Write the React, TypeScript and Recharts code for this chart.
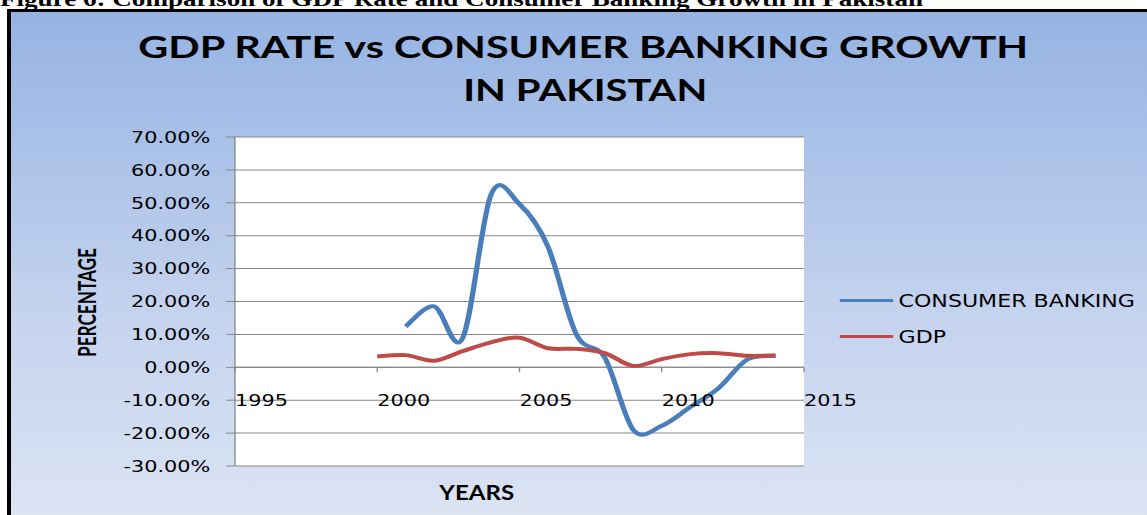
import { LineChart, Line, XAxis, YAxis, CartesianGrid, ReferenceLine, Legend } from 'recharts'

const years = [2000, 2001, 2002, 2003, 2004, 2005, 2006, 2007, 2008, 2009, 2010, 2011, 2012, 2013, 2014]
const consumerBanking = [null, 12.4, 18.5, 8.8, 52.5, 49.6, 36.7, 10.0, 2.9, -19.0, -17.8, -12.1, -6.3, 2.3, 3.5]
const gdpRate = [3.3, 3.7, 2.0, 4.9, 7.6, 9.0, 5.8, 5.6, 4.3, 0.4, 2.5, 4.0, 4.3, 3.5, 3.6]
const xTicks = [1995, 2000, 2005, 2010, 2015]
const yTicks = [-30, -20, -10, 0, 10, 20, 30, 40, 50, 60, 70]
const seriesNames = ['CONSUMER BANKING', 'GDP']

const chartData = years.map((year, i) => ({
  year,
  consumer: consumerBanking[i],
  gdp: gdpRate[i],
}))

// the source picture is stretched sideways, so the chart is drawn narrow and scaled
const S = 1.3
const W = 1147 / S
const H = 515
const PLOT_LEFT = 235 / S
const PLOT_RIGHT = 804 / S
const PLOT_TOP = 137
const PLOT_BOTTOM = 466
const Y_MIN = -30
const Y_MAX = 70
const ZERO_Y = PLOT_TOP + ((PLOT_BOTTOM - PLOT_TOP) * Y_MAX) / (Y_MAX - Y_MIN)

const GRID = '#878787'
const BLUE = '#4a7ebb'
const RED = '#be4b48'
const TICK_FONT = '"DejaVu Sans", Verdana, sans-serif'
const TITLE_FONT = 'Lato, "Open Sans", sans-serif'

// Excel-like smoothed line (Catmull-Rom through every point)
const excelCurve = (context: any) => {
  let pts: number[][] = []
  return {
    areaStart() {},
    areaEnd() {},
    lineStart() {
      pts = []
    },
    point(x: number, y: number) {
      pts.push([+x, +y])
    },
    lineEnd() {
      if (!pts.length) return
      context.moveTo(pts[0][0], pts[0][1])
      for (let i = 0; i < pts.length - 1; i++) {
        const p0 = pts[Math.max(i - 1, 0)]
        const p1 = pts[i]
        const p2 = pts[i + 1]
        const p3 = pts[Math.min(i + 2, pts.length - 1)]
        context.bezierCurveTo(
          p1[0] + (p2[0] - p0[0]) / 6,
          p1[1] + (p2[1] - p0[1]) / 6,
          p2[0] - (p3[0] - p1[0]) / 6,
          p2[1] - (p3[1] - p1[1]) / 6,
          p2[0],
          p2[1]
        )
      }
    },
  }
}

function YTick({ x, y, payload }: any) {
  return (
    <text x={x} y={y} dy="0.36em" textAnchor="end" fontFamily={TICK_FONT} fontSize={16} fill="#000">
      {`${Number(payload.value).toFixed(2)}%`}
    </text>
  )
}

function XTick({ x, payload }: any) {
  return (
    <g>
      <line x1={x} x2={x} y1={ZERO_Y} y2={ZERO_Y + 5} stroke={GRID} />
      <text x={x} y={ZERO_Y + 39} textAnchor="start" fontFamily={TICK_FONT} fontSize={16} fill="#000">
        {payload.value}
      </text>
    </g>
  )
}

function LegendBox({ payload }: any) {
  return (
    <div style={{ fontFamily: TICK_FONT, fontSize: 17, color: '#000', whiteSpace: 'nowrap' }}>
      {(payload || []).map((item: any) => (
        <div key={item.value} style={{ display: 'flex', alignItems: 'center', height: 36 }}>
          <span style={{ display: 'inline-block', width: 41, height: 3, background: item.color, marginRight: 4 }} />
          <span>{item.value}</span>
        </div>
      ))}
    </div>
  )
}

export default function App() {
  return (
    <div style={{ position: 'absolute', left: 0, top: 0, width: 1147, height: H, overflow: 'hidden', background: '#fff' }}>
      <svg width={1147} height={20} style={{ position: 'absolute', left: 0, top: 0 }}>
        <text
          x={0}
          y={5.5}
          fontFamily='"Liberation Serif", "Times New Roman", serif'
          fontWeight={700}
          fontSize={21}
          textLength={923}
          lengthAdjust="spacingAndGlyphs"
        >
          Figure 6: Comparison of GDP Rate and Consumer Banking Growth in Pakistan
        </text>
      </svg>
      <div
        style={{
          position: 'absolute',
          left: 7,
          top: 9,
          width: 1160,
          height: 530,
          borderLeft: '4px solid #000',
          borderTop: '3px solid #000',
          background: 'linear-gradient(180deg, #95b3e3 0%, #c3d2ee 55%, #dfe6f4 100%)',
        }}
      />
      <div
        style={{
          position: 'absolute',
          left: 0,
          top: 0,
          width: W,
          height: H,
          transform: `scaleX(${S})`,
          transformOrigin: '0 0',
        }}
      >
        <LineChart
          width={W}
          height={H}
          data={chartData}
          margin={{ top: PLOT_TOP, right: W - PLOT_RIGHT, bottom: H - PLOT_BOTTOM - 1, left: 0 }}
        >
          <CartesianGrid vertical={false} stroke={GRID} fill="#fff" fillOpacity={1} />
          <XAxis
            dataKey="year"
            type="number"
            domain={[1995, 2015]}
            ticks={xTicks}
            interval={0}
            height={1}
            axisLine={false}
            tickLine={false}
            tick={<XTick />}
          />
          <YAxis
            type="number"
            domain={[Y_MIN, Y_MAX]}
            ticks={yTicks}
            interval={0}
            width={PLOT_LEFT}
            tickSize={7}
            tickMargin={12}
            axisLine={{ stroke: GRID }}
            tickLine={{ stroke: GRID }}
            tick={<YTick />}
          />
          <ReferenceLine y={0} stroke={GRID} />
          <Legend
            layout="horizontal"
            verticalAlign="middle"
            align="center"
            content={<LegendBox />}
            wrapperStyle={{ left: 646.2, top: 282.7, width: 240 }}
          />
          <Line
            type={excelCurve as any}
            dataKey="consumer"
            name={seriesNames[0]}
            stroke={BLUE}
            strokeWidth={4}
            dot={false}
            isAnimationActive={false}
          />
          <Line
            type={excelCurve as any}
            dataKey="gdp"
            name={seriesNames[1]}
            stroke={RED}
            strokeWidth={4}
            dot={false}
            isAnimationActive={false}
          />
        </LineChart>
        <svg width={W} height={H} style={{ position: 'absolute', left: 0, top: 0, pointerEvents: 'none' }}>
          <g fontFamily={TITLE_FONT} fontWeight={700} fill="#000" textAnchor="middle">
            <text x={448.6} y={58.5} fontSize={30} textLength={684.6} lengthAdjust="spacingAndGlyphs">
              GDP RATE vs CONSUMER BANKING GROWTH
            </text>
            <text x={450.2} y={101} fontSize={30} textLength={187.7} lengthAdjust="spacingAndGlyphs">
              IN PAKISTAN
            </text>
            <text
              transform="translate(73.8, 302.5) rotate(-90)"
              fontSize={19}
              textLength={109}
              lengthAdjust="spacingAndGlyphs"
            >
              PERCENTAGE
            </text>
            <text x={366.7} y={500} fontSize={21} textLength={57.5} lengthAdjust="spacingAndGlyphs">
              YEARS
            </text>
          </g>
        </svg>
      </div>
    </div>
  )
}
